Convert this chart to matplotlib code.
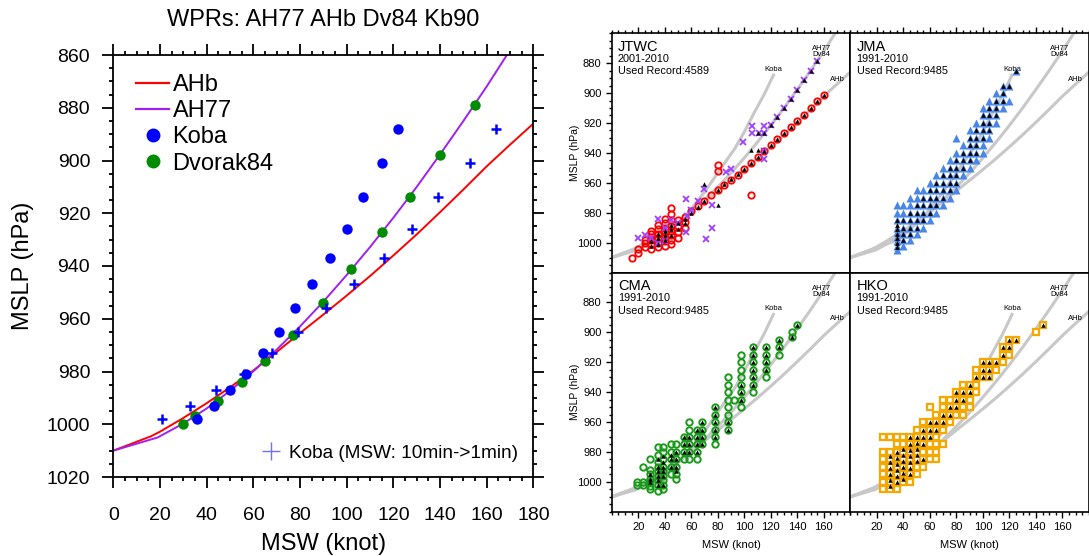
import numpy as np
import matplotlib
matplotlib.use("Agg")
import matplotlib.pyplot as plt
from matplotlib.ticker import MultipleLocator
from matplotlib.lines import Line2D

plt.rcParams['font.family'] = ['Liberation Sans', 'DejaVu Sans']

# ---- left panel: wind-pressure relationships ----
ahb_msw = [0, 16, 20, 30, 40, 50, 60, 70, 80, 90, 100, 110, 120, 130, 140, 150, 160, 170, 180]
ahb_mslp = [1010, 1004.6, 1002.8, 997.6, 992, 986, 979.6, 972.6, 965.4, 958.4, 951.2,
            943.8, 936, 928, 919.6, 911, 902.2, 894, 886]

ah77_msw = [0, 19, 30, 40, 50, 60, 70, 80, 90, 100, 110, 120, 130, 140, 150, 160, 169]
ah77_mslp = [1010, 1005, 999.7, 994, 987.3, 979.9, 971.7, 962.9, 953.5, 943.4, 932.8,
             921.7, 910, 897.7, 885, 871.9, 859.5]

koba_msw = [36, 43, 50, 57, 64, 71, 78, 85, 93, 100, 107, 115, 122]
koba_1min_msw = [21, 33, 44, 56, 68, 79, 91, 103, 116, 128, 139, 153, 164]
koba_mslp = [998, 993, 987, 981, 973, 965, 956, 947, 937, 926, 914, 901, 888]

dv84_msw = [30, 35, 45, 55, 65, 77, 90, 102, 115, 127, 140, 155]
dv84_mslp = [1000, 997, 991, 984, 976, 966, 954, 941, 927, 914, 898, 879]

# ---- right panels: best-track records ----
jtwc_red_w = [15, 20, 20, 25, 25, 25, 30, 30, 30, 30, 30, 30, 35, 35, 35, 35, 35, 35,
              40, 40, 40, 40, 40, 40, 40, 45, 45, 45, 45, 45, 45, 45, 45, 50, 50, 50, 50,
              55, 55, 55, 80, 80, 105, 60, 65, 70, 75, 80, 85, 90, 95, 100, 105, 110,
              115, 120, 125, 130, 135, 140, 145, 150, 155, 160]
jtwc_red_p = [1010, 1007, 1004, 1003, 1000, 998, 1004, 1001, 998, 996, 994, 992,
              1003, 1000, 997, 994, 991, 988, 1002, 999, 996, 993, 990, 987, 984,
              1001, 998, 995, 992, 989, 985, 981, 977, 997, 993, 989, 985, 990, 986, 983,
              948, 952, 968, 979, 975.5, 972, 968.5, 965, 961.5, 958, 954.5, 950.5, 947,
              943, 939, 935, 931, 927, 923, 918.5, 914.5, 910, 905.5, 901.5]

jtwc_x_w = [115, 120, 125, 130, 135, 140, 145, 150, 155, 106, 106, 111, 115, 99, 115,
            115, 86, 90, 76, 70, 56, 56, 76, 71, 60, 65, 50, 45, 40, 35, 30, 25, 20, 35,
            40, 57]
jtwc_x_p = [927, 921.5, 916, 910, 904, 898, 891.5, 885, 878.5, 922, 927, 927, 922, 933,
            939, 944, 953, 951, 975, 964, 971, 993, 990, 997.5, 978, 972, 987, 985, 990,
            984, 997, 995, 997, 1000, 999, 982]

jtwc_blk_w = [30, 30, 35, 35, 35, 40, 40, 40, 45, 45, 45, 50, 50, 55, 55, 60, 65, 70,
              80, 85, 90, 95, 100, 105, 110, 115, 120, 125, 130, 135, 140, 145, 150, 155,
              160, 110, 115, 120, 125, 130, 135, 140, 145, 150, 155, 70, 80, 105, 110]
jtwc_blk_p = [1002, 999, 1001, 997, 994, 998, 995, 992, 995, 991, 988, 991, 987, 987,
              984, 980, 976, 972, 965, 961, 957.5, 954, 950.5, 947, 943, 939, 935, 931,
              927, 923, 918.5, 914.5, 910, 905.5, 901.5, 927, 927, 921.5, 916, 910, 904,
              898, 891.5, 885, 878.5, 961, 975, 938, 938]

jma_w = [35, 40, 45, 50, 55, 60, 65, 70, 75, 80, 85, 90, 95, 100, 105, 110, 115, 120, 125]
jma_p = [[975, 980, 985, 990, 993, 996, 999, 1002, 1005],
         [975, 980, 985, 990, 994, 998, 1002],
         [970, 975, 980, 985, 990, 994, 998],
         [965, 970, 975, 980, 985, 990, 994],
         [965, 970, 975, 980, 985, 990],
         [960, 965, 970, 975, 980, 985],
         [955, 960, 965, 970, 975, 980],
         [950, 955, 960, 965, 970, 975],
         [945, 950, 955, 960, 965, 970],
         [930, 940, 945, 950, 955, 960, 965],
         [935, 940, 945, 950, 955],
         [925, 930, 935, 940, 945, 950],
         [920, 925, 930, 935, 940, 945],
         [910, 915, 920, 925, 930, 935, 940],
         [905, 910, 915, 920, 925, 930],
         [900, 905, 910, 915, 920],
         [895, 900, 905, 910],
         [895, 905],
         [885]]
jma_blk_p = [[985, 988, 991, 994, 997, 1000, 1003],
             [985, 990, 994, 998],
             [980, 985, 990, 994],
             [975, 980, 985, 990],
             [970, 975, 980, 985],
             [965, 970, 975, 980],
             [960, 965, 970, 975],
             [955, 960, 965, 970],
             [950, 955, 960, 965],
             [945, 950, 955, 960],
             [940, 945, 950],
             [930, 935, 940, 945],
             [925, 930, 935, 940],
             [915, 920, 925, 930],
             [910, 915, 920, 925],
             [905, 910, 915],
             [895, 900, 905],
             [895],
             [885]]

cma_w = [19.4, 23.3, 29.2, 35.0, 38.9, 44.7, 48.6, 54.4, 58.3, 64.1, 68.0, 77.8, 87.5,
         92.5, 97.2, 106.9, 116.6, 126.4, 136.1, 140.0]
cma_p = [[1000, 1002],
         [990, 1000, 1002],
         [985, 992, 995, 998, 1000, 1003, 1005],
         [977, 982, 987, 990, 993, 996, 999, 1002, 1006],
         [977, 980, 985, 990, 993, 996, 999, 1002, 1005],
         [975, 980, 985, 990, 995],
         [975, 980, 985, 990, 995, 998],
         [970, 975, 980, 985],
         [960, 965, 970, 975, 980, 985],
         [965, 970, 975, 980, 985],
         [960, 965, 970, 975],
         [950, 955, 960, 965, 970, 975],
         [930, 935, 940, 945, 950, 955, 960, 965],
         [945],
         [915, 920, 925, 930, 935, 940, 945, 950],
         [910, 915, 920, 925, 930, 935, 940],
         [910, 915, 920, 925, 930],
         [905, 910, 915],
         [900, 903],
         [895]]
cma_blk_p = [[], [], [995, 998, 1000],
             [985, 990, 993, 996, 999, 1002],
             [983, 987, 990, 993, 996, 1002],
             [982, 985, 990],
             [980, 985, 990, 993],
             [970, 975, 980],
             [970, 975, 980],
             [965, 970, 975, 980],
             [960, 965, 970, 975],
             [950, 955, 960, 965, 970],
             [960, 965],
             [],
             [935, 940, 945],
             [910, 915, 920, 925, 930, 935],
             [910, 915, 920, 925],
             [905, 910],
             [903],
             [895]]

hko_w = [25, 30, 35, 40, 45, 50, 55, 60, 65, 70, 75, 80, 85, 90, 95, 100, 105, 110,
         115, 120, 125, 140, 145]
hko_p = [[970, 980, 985, 990, 995, 1000, 1005],
         [970, 980, 985, 990, 995, 1000, 1005],
         [970, 975, 980, 985, 990, 995, 1000, 1005],
         [970, 975, 980, 985, 990, 995, 1000],
         [970, 975, 980, 985, 990, 995, 1000],
         [965, 970, 975, 980, 985, 990, 995],
         [960, 965, 970, 975, 980, 985, 990],
         [950, 960, 965, 970, 975, 980, 985],
         [955, 960, 965, 970, 975, 980, 985],
         [945, 950, 955, 960, 965, 975],
         [945, 950, 955, 960],
         [940, 945, 950, 955],
         [935, 940, 945, 950, 955],
         [935, 940, 945, 950],
         [925, 930, 935, 940],
         [920, 925, 930],
         [920, 925, 930],
         [920, 925],
         [910, 915, 920],
         [905, 910, 915],
         [905],
         [900],
         [895]]
hko_blk_p = [[],
             [983, 987, 991, 995, 999, 1003],
             [980, 984, 988, 992, 996, 1000],
             [978, 982, 986, 990, 994, 998],
             [970, 975, 979, 983, 987, 991, 995],
             [970, 974, 978, 982, 986],
             [965, 970, 975, 985],
             [960, 965, 970],
             [960, 965],
             [955, 960],
             [950, 955],
             [940, 945, 950],
             [940, 945],
             [935, 940],
             [930],
             [920, 925, 930],
             [920, 925, 930],
             [920],
             [910, 915],
             [905, 910],
             [905],
             [],
             [895]]


def flatten(cols, pres):
    w = [c for c, ps in zip(cols, pres) for _ in ps]
    p = [v for ps in pres for v in ps]
    return w, p


W, H = 1089, 556
fig = plt.figure(figsize=(W / 100, H / 100), dpi=100)


def box(x0, y0, w, h):
    return [x0 / W, 1 - (y0 + h) / H, w / W, h / H]


# ================= left panel =================
ax = fig.add_axes(box(113.4, 55, 420, 422))
ax.plot(ahb_msw, ahb_mslp, color='#ff0000', lw=1.4)
ax.plot(ah77_msw, ah77_mslp, color='#a020f0', lw=1.4)
ax.plot(dv84_msw, dv84_mslp, 'o', color='#008c00', ms=7.5, mec='none')
ax.plot(koba_msw, koba_mslp, 'o', color='#0000ff', ms=7.5, mec='none')
ax.plot(koba_1min_msw, koba_mslp, '+', color='#0000ff', ms=7, mew=1.8)
ax.set_xlim(0, 180)
ax.set_ylim(1020, 860)
ax.xaxis.set_major_locator(MultipleLocator(20))
ax.xaxis.set_minor_locator(MultipleLocator(5))
ax.yaxis.set_major_locator(MultipleLocator(20))
ax.yaxis.set_minor_locator(MultipleLocator(5))
ax.tick_params(which='both', direction='out', top=True, right=True, width=1.3)
ax.tick_params(which='major', length=7.7, labelsize=14, pad=9)
ax.tick_params(axis='x', which='major', pad=14)
ax.tick_params(which='minor', length=3)
for s in ax.spines.values():
    s.set_linewidth(1.3)
ax.set_xlabel('MSW (knot)', fontsize=17, va='center')
ax.set_ylabel('MSLP (hPa)', fontsize=17, va='center')
ax.xaxis.set_label_coords(0.5, -0.158)
ax.yaxis.set_label_coords(-0.215, 0.5)
ax.text(0.5, 1.084, 'WPRs: AH77 AHb Dv84 Kb90', transform=ax.transAxes,
        ha='center', va='center', fontsize=17)

handles = [Line2D([], [], color='#ff0000', lw=1.6),
           Line2D([], [], color='#a020f0', lw=1.6),
           Line2D([], [], ls='none', marker='o', color='#0000ff', ms=10, mec='none'),
           Line2D([], [], ls='none', marker='o', color='#008c00', ms=10, mec='none')]
leg = ax.legend(handles, ['AHb', 'AH77', 'Koba', 'Dvorak84'], loc='upper left',
                bbox_to_anchor=(22.6 / 420, 1 - 19 / 422), borderaxespad=0, borderpad=0,
                frameon=False, fontsize=17, handlelength=1.4, handletextpad=0.15,
                labelspacing=0.18)
ax.add_artist(leg)
h2 = Line2D([], [], ls='none', marker='+', color='#7070ff', ms=13, mew=1)
ax.legend([h2], ['Koba (MSW: 10min->1min)'], loc='lower right',
          bbox_to_anchor=(1 - 15 / 420, 15 / 422), borderaxespad=0, borderpad=0,
          frameon=False, fontsize=13.7, handlelength=1.0, handletextpad=0.45)

# ================= right panels =================
px0, py0, pw, ph = 611.7, 33.2, 238.6, 239.3
gray = '#c8c8c8'


def panel(col, row, name, years, record):
    a = fig.add_axes(box(px0 + col * pw, py0 + row * ph, pw, ph))
    a.plot(ahb_msw, ahb_mslp, color=gray, lw=2.2, zorder=1)
    a.plot(ah77_msw, ah77_mslp, color=gray, lw=2.2, zorder=1)
    a.plot([0] + koba_msw, [1010] + koba_mslp, color=gray, lw=2.2, zorder=1)
    a.text(122, 884, 'Koba', fontsize=5.5, ha='center', va='center', zorder=2)
    a.text(158, 870.5, 'AH77', fontsize=5.5, ha='center', va='center', zorder=2)
    a.text(158, 874.5, 'Dv84', fontsize=5.5, ha='center', va='center', zorder=2)
    a.text(170, 891, 'AHb', fontsize=5.5, ha='center', va='center', zorder=2)
    a.set_xlim(0, 180)
    a.set_ylim(1020, 860)
    a.set_xticks(range(20, 161, 20))
    a.set_yticks(range(880, 1001, 20))
    a.xaxis.set_minor_locator(MultipleLocator(5))
    a.yaxis.set_minor_locator(MultipleLocator(5))
    a.tick_params(which='both', direction='out', width=1, labelsize=8, pad=3,
                  top=(row == 0), bottom=(row == 1), left=(col == 0), right=False,
                  labelbottom=(row == 1), labelleft=(col == 0))
    a.tick_params(which='major', length=4.3)
    a.tick_params(which='minor', length=2)
    for s in a.spines.values():
        s.set_linewidth(1.2)
    if col == 0:
        a.set_ylabel('MSLP (hPa)', fontsize=7.5, va='center')
        a.yaxis.set_label_coords(-0.155, 0.5)
    if row == 1:
        a.set_xlabel('MSW (knot)', fontsize=8, va='center')
        a.xaxis.set_label_coords(0.5, -0.138)
    a.text(0.026, 0.944, name, transform=a.transAxes, fontsize=10.5, va='center')
    a.text(0.026, 0.892, years, transform=a.transAxes, fontsize=7.8, va='center')
    a.text(0.026, 0.840, 'Used Record:' + record, transform=a.transAxes,
           fontsize=7.8, va='center')
    return a


# JTWC
a = panel(0, 0, 'JTWC', '2001-2010', '4589')
a.plot(jtwc_red_w, jtwc_red_p, 'o', mfc='none', mec='#ff0000', ms=4.6, mew=1.3, zorder=3)
a.plot(jtwc_x_w, jtwc_x_p, 'x', color='#a040ff', ms=4.5, mew=1.3, zorder=3)
a.plot(jtwc_blk_w, jtwc_blk_p, '^', color='black', ms=3.2, mec='none', zorder=4)

# JMA
a = panel(1, 0, 'JMA', '1991-2010', '9485')
w, p = flatten(jma_w, jma_p)
a.plot(w, p, '^', color='#4a86e8', ms=6, mec='none', zorder=3)
w, p = flatten(jma_w, jma_blk_p)
a.plot(w, p, '^', color='black', ms=3.4, mec='none', zorder=4)

# CMA
a = panel(0, 1, 'CMA', '1991-2010', '9485')
w, p = flatten(cma_w, cma_p)
a.plot(w, p, 'o', mfc='none', mec='#1a9a1a', ms=4.6, mew=1.4, zorder=3)
w, p = flatten(cma_w, cma_blk_p)
a.plot(w, p, '^', color='black', ms=3.2, mec='none', zorder=4)

# HKO
a = panel(1, 1, 'HKO', '1991-2010', '9485')
w, p = flatten(hko_w, hko_p)
a.plot(w, p, 's', mfc='white', mec='#f5a800', ms=5, mew=1.6, zorder=3)
w, p = flatten(hko_w, hko_blk_p)
a.plot(w, p, '^', color='black', ms=3.2, mec='none', zorder=4)

fig.savefig('out.png', dpi=100)
